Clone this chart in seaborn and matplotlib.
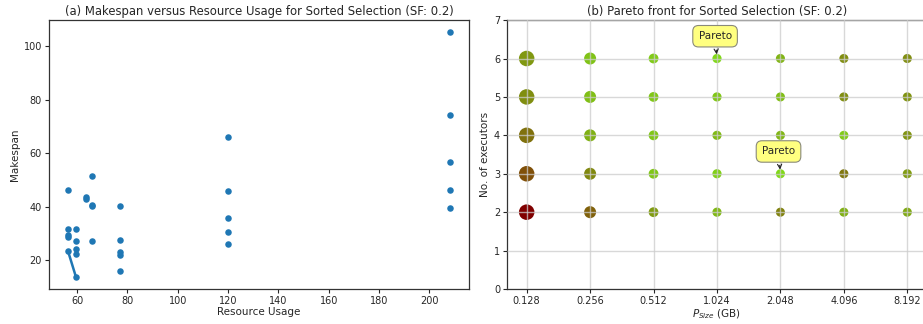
import matplotlib
matplotlib.use("Agg")
import matplotlib.pyplot as plt
import numpy as np
import pandas as pd
import seaborn as sns
from matplotlib.colors import LinearSegmentedColormap

# (a) makespan vs resource usage
resource_usage = [208.2, 208.2, 208.2, 208.2, 208.2,
                  119.9, 119.9, 119.9, 119.9, 119.9,
                  77.1, 77.1, 77.1, 77.1, 77.1,
                  66.1, 66.1, 66.1, 66.1,
                  63.7, 63.7,
                  59.5, 59.5, 59.5, 59.5, 59.5,
                  56.4, 56.4, 56.4, 56.4, 56.4]
makespan = [105.2, 74.2, 56.9, 46.2, 39.6,
            66.1, 45.8, 35.8, 30.6, 25.9,
            40.1, 27.7, 23.0, 21.9, 15.9,
            51.4, 40.8, 40.1, 27.3,
            43.6, 42.7,
            31.5, 27.0, 24.3, 22.5, 13.8,
            46.4, 31.5, 29.4, 28.5, 23.3]
pareto_usage = [56.4, 59.5]
pareto_makespan = [23.3, 13.8]

# (b) grid of partition size x executors
psize_labels = ["0.128", "0.256", "0.512", "1.024", "2.048", "4.096", "8.192"]
executors = [6, 5, 4, 3, 2]
# greenness of each marker (0 = dark red, 1 = lime), rows = executors
greenness = [
    [0.70, 0.90, 0.94, 1.00, 0.83, 0.66, 0.66],
    [0.66, 0.88, 0.92, 0.92, 0.88, 0.66, 0.68],
    [0.52, 0.82, 0.92, 0.86, 0.84, 0.94, 0.68],
    [0.37, 0.63, 0.92, 0.96, 1.00, 0.55, 0.72],
    [0.00, 0.45, 0.72, 0.85, 0.60, 0.82, 0.78],
]
# marker area per column
marker_size = [125, 75, 50, 44, 43, 43, 43]
pareto_points = [("1.024", 6), ("2.048", 3)]

rows = []
for i, ex in enumerate(executors):
    for j, ps in enumerate(psize_labels):
        rows.append({"psize": ps, "executors": ex,
                     "green": greenness[i][j], "size": marker_size[j]})
grid_df = pd.DataFrame(rows)
grid_df["psize"] = pd.Categorical(grid_df["psize"], categories=psize_labels)

sns.set_theme(style="ticks")
plt.rcParams["font.family"] = ["DejaVu Sans"]

cmap = LinearSegmentedColormap.from_list("rg", ["#800000", "#80d818"])

fig = plt.figure(figsize=(9.23, 3.24), dpi=100)
ax1 = fig.add_axes([0.0531, 0.108, 0.455, 0.830])
ax2 = fig.add_axes([0.5493, 0.108, 0.455, 0.830])

sns.scatterplot(x=resource_usage, y=makespan, ax=ax1, color="#1f77b4",
                s=22, linewidth=0)
ax1.plot(pareto_usage, pareto_makespan, color="#1f77b4", lw=1.8)
ax1.set_xticks(np.arange(60, 201, 20))
ax1.set_yticks(np.arange(20, 101, 20))
ax1.set_xlabel("Resource Usage", fontsize=7.5, labelpad=1)
ax1.set_ylabel("Makespan", fontsize=7.5, labelpad=3)
ax1.set_title("(a) Makespan versus Resource Usage for Sorted Selection (SF: 0.2)",
              fontsize=8.4, pad=4)

sns.scatterplot(data=grid_df, x="psize", y="executors", hue="green",
                palette=cmap, hue_norm=(0, 1), size="size",
                sizes=(min(marker_size), max(marker_size)),
                size_norm=(min(marker_size), max(marker_size)),
                linewidth=0, legend=False, ax=ax2, zorder=2)
ax2.set_xlim(-0.31, 6.31)
ax2.set_ylim(0, 7)
ax2.set_yticks(range(0, 8))
ax2.grid(True, color="#cccccc", lw=1.0, alpha=0.75, zorder=3)
ax2.set_axisbelow(False)
ax2.set_xlabel("$P_{Size}$ (GB)", fontsize=7.5, labelpad=1)
ax2.set_ylabel("No. of executors", fontsize=7.5, labelpad=3)
ax2.set_title("(b) Pareto front for Sorted Selection (SF: 0.2)", fontsize=8.4, pad=4)

for ps, ex in pareto_points:
    xi = psize_labels.index(ps)
    ax2.annotate("Pareto", xy=(xi, ex), xytext=(xi - 0.03, ex + 0.58),
                 ha="center", va="center", fontsize=7.5, zorder=5,
                 bbox=dict(boxstyle="round,pad=0.55", fc="#ffff80",
                           ec="#8a8a7a", lw=0.8),
                 arrowprops=dict(arrowstyle="->", color="#222222", lw=0.8,
                                 shrinkB=3))

for ax in (ax1, ax2):
    ax.tick_params(labelsize=7, length=3, width=0.8, pad=2)
    for sp in ax.spines.values():
        sp.set_color("#333333")
        sp.set_linewidth(0.9)

fig.savefig("out.png", dpi=100)
